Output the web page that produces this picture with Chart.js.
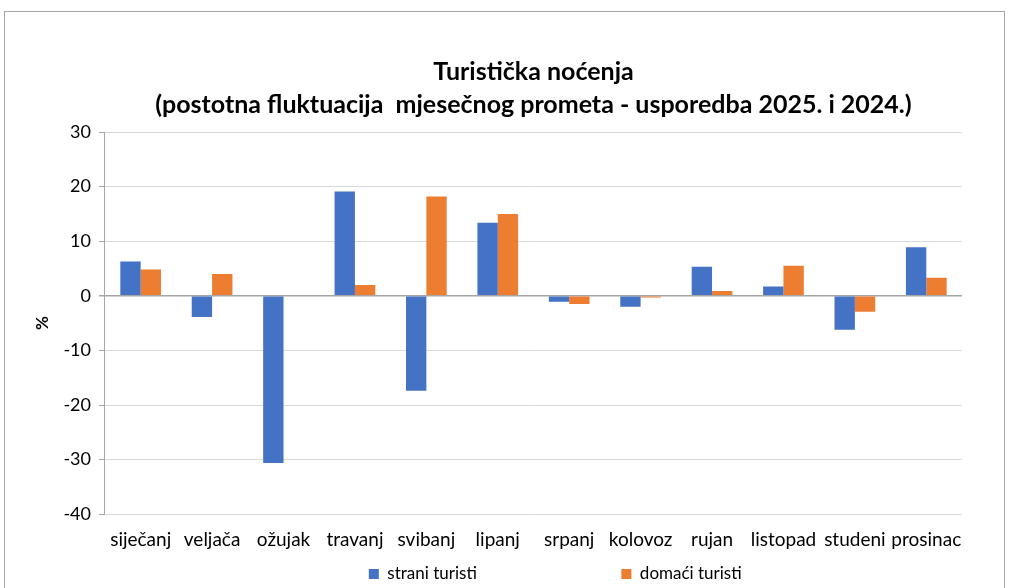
<!DOCTYPE html>
<html>
<head>
<meta charset="utf-8">
<script src="https://cdn.jsdelivr.net/npm/chart.js@4/dist/chart.umd.min.js"></script>
<style>
  html, body { margin: 0; padding: 0; background: #fff; overflow: hidden; }
  #frame { position: absolute; left: 4px; top: 11px; width: 1001px; height: 620px; border: 1px solid #a6a6a6; box-sizing: border-box; }
  #wrap { position: absolute; left: 0; top: 0; width: 1009px; height: 600px; }
</style>
</head>
<body>
<div id="frame"></div>
<div id="wrap"><canvas id="chart" width="1009" height="600"></canvas></div>
<script>
const months = ['siječanj', 'veljača', 'ožujak', 'travanj', 'svibanj', 'lipanj', 'srpanj', 'kolovoz', 'rujan', 'listopad', 'studeni', 'prosinac']
const straniTuristi = [6.3, -3.9, -30.6, 19.1, -17.4, 13.4, -1.1, -2.0, 5.3, 1.7, -6.2, 8.9]
const domaciTuristi = [4.8, 4.0, 0, 2.0, 18.2, 15.0, -1.5, -0.3, 0.9, 5.5, -2.9, 3.3]
const titleLines = ['Turistička noćenja', '(postotna fluktuacija  mjesečnog prometa - usporedba 2025. i 2024.)']

const font = 'Lato'
const em = '\u2003'
const en = '\u2002'
let ctx = document.getElementById('chart').getContext('2d')

// legend items sit far apart in the original, so pad with spaces + an empty leading item
function legendLabels(chart) {
  const items = Chart.defaults.plugins.legend.labels.generateLabels(chart)
  items[0].text = items[0].text + em.repeat(6) + en.repeat(7)
  const spacer = {
    text: em.repeat(4) + en.repeat(5),
    fillStyle: 'rgba(0,0,0,0)',
    strokeStyle: 'rgba(0,0,0,0)',
    lineWidth: 0,
    hidden: false,
    datasetIndex: -1,
  }
  return [spacer, ...items]
}

const chart = new Chart(ctx, {
  type: 'bar',
  data: {
    labels: months,
    datasets: [
      { label: 'strani turisti', data: straniTuristi, backgroundColor: '#4472C4' },
      { label: 'domaći turisti', data: domaciTuristi, backgroundColor: '#ED7D31' },
    ],
  },
  options: {
    responsive: false,
    animation: false,
    layout: { padding: { top: 56, left: 28, right: 47, bottom: 7.5 } },
    datasets: {
      bar: { barPercentage: 1, categoryPercentage: 0.57 },
    },
    plugins: {
      title: {
        display: true,
        fullSize: false,
        text: titleLines,
        color: '#000',
        font: { family: font, size: 25, weight: 'bold', lineHeight: 1.3 },
        padding: { top: 0, bottom: 11 },
      },
      legend: {
        position: 'bottom',
        labels: {
          color: '#000',
          font: { family: font, size: 17 },
          boxWidth: 10,
          boxHeight: 10,
          padding: 8.5,
          generateLabels: legendLabels,
        },
      },
      tooltip: { enabled: false },
    },
    scales: {
      x: {
        grid: { display: false },
        border: { display: false },
        ticks: { color: '#000', font: { family: font, size: 19 }, maxRotation: 0, autoSkip: false, padding: 6 },
      },
      y: {
        min: -40,
        max: 30,
        ticks: { stepSize: 10, color: '#000', font: { family: font, size: 18 }, padding: 8 },
        grid: {
          color: (c) => (c.tick && c.tick.value === 0 ? '#a6a6a6' : '#d9d9d9'),
          tickColor: '#a6a6a6',
          tickLength: 6,
          lineWidth: (c) => (c.tick && c.tick.value === 0 ? 1.5 : 1),
        },
        border: { display: true, color: '#a6a6a6' },
        title: { display: true, text: '%', color: '#000', font: { family: font, size: 17, weight: 'bold' }, padding: { bottom: 3 } },
      },
    },
  },
})
</script>
</body>
</html>
